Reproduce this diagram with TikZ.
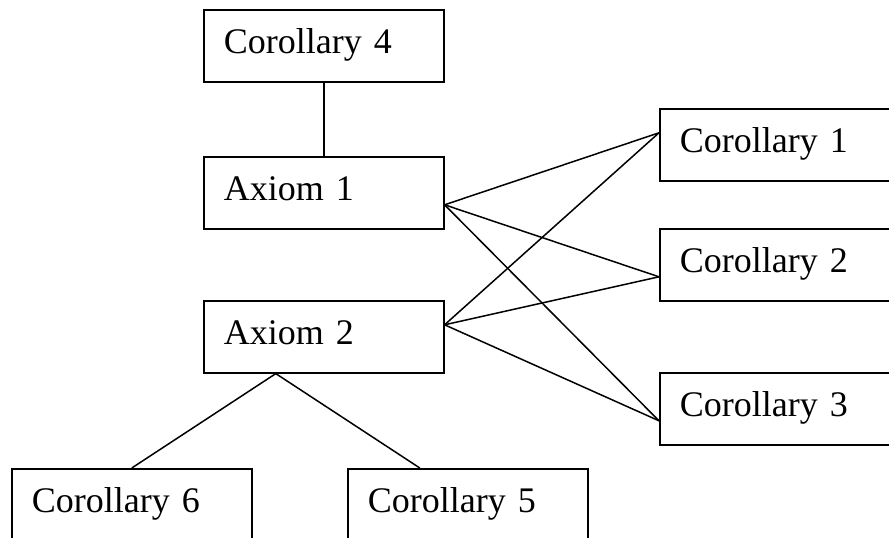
\documentclass[tikz,border=0pt]{standalone}
\usepackage{fontspec}
\setmainfont{Liberation Serif}
\usepackage{tikz}

\tikzset{
  prop/.style={draw,line width=1.6pt,anchor=north west,minimum width=240pt,minimum height=72pt,
    text width=200pt,align=left,inner xsep=20pt,inner ysep=0pt,text height=24pt,text depth=8pt,
    font=\fontsize{36}{43}\selectfont},
  link/.style={line width=1.5pt}
}

\begin{document}
\begin{tikzpicture}[x=1pt,y=-1pt]
	\clip (0,0) rectangle (889,538);
	\fill[white] (0,0) rectangle (889,538);
	\node[prop] (cor4) at (203,9) {Corollary 4};
	\node[prop] (ax1) at (203,156) {Axiom 1};
	\node[prop] (ax2) at (203,300) {Axiom 2};
	\node[prop] (cor1) at (659,108) {Corollary 1};
	\node[prop] (cor2) at (659,228) {Corollary 2};
	\node[prop] (cor3) at (659,372) {Corollary 3};
	\node[prop] (cor6) at (11,468) {Corollary 6};
	\node[prop] (cor5) at (347,468) {Corollary 5};
	\draw[link] (cor4.south) -- (ax1.north);
	\draw[link] ([yshift=-12pt]ax1.east) -- ([yshift=12pt]cor1.west);
	\draw[link] ([yshift=-12pt]ax1.east) -- ([yshift=-12pt]cor2.west);
	\draw[link] ([yshift=-12pt]ax1.east) -- ([yshift=-12pt]cor3.west);
	\draw[link] ([yshift=12pt]ax2.east) -- ([yshift=12pt]cor1.west);
	\draw[link] ([yshift=12pt]ax2.east) -- ([yshift=-12pt]cor2.west);
	\draw[link] ([yshift=12pt]ax2.east) -- ([yshift=-12pt]cor3.west);
	\draw[link] ([xshift=-48pt]ax2.south) -- (cor6.north);
	\draw[link] ([xshift=-48pt]ax2.south) -- ([xshift=-48pt]cor5.north);
\end{tikzpicture}
\end{document}
